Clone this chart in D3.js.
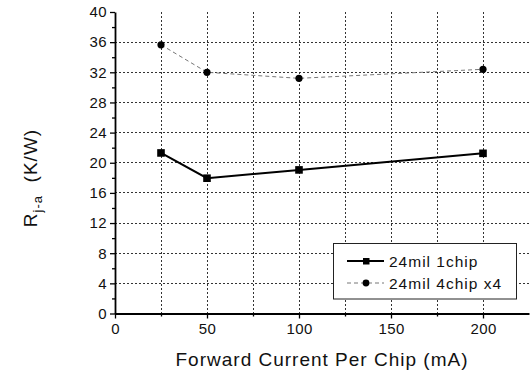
<!DOCTYPE html>
<html>
<head>
<meta charset="utf-8">
<script src="https://cdn.jsdelivr.net/npm/d3@7"></script>
<style>
  body { margin: 0; background: #fff; }
  svg { font-family: "Liberation Sans", Arial, sans-serif; }
</style>
</head>
<body>
<svg id="chart" width="530" height="379"></svg>
<script>
const current = [25, 50, 100, 200];
const oneChip = [21.3, 17.95, 19.05, 21.25];
const fourChip = [35.65, 32.0, 31.2, 32.4];
const seriesNames = ["24mil 1chip", "24mil 4chip x4"];
const xTicks = [0, 50, 100, 150, 200];
const yTicks = [0, 4, 8, 12, 16, 20, 24, 28, 32, 36, 40];

const svg = d3.select("#chart");
const margin = { top: 12, right: 0, bottom: 66, left: 115 };
const W = 530, H = 379;

const x = d3.scaleLinear().domain([0, 225]).range([margin.left, W - margin.right - 1]);
const y = d3.scaleLinear().domain([0, 40]).range([313.5, margin.top]);

// grid
const grid = svg.append("g").attr("stroke", "#333").attr("stroke-width", 1)
  .attr("stroke-dasharray", "2,2").attr("shape-rendering", "crispEdges");
grid.selectAll("line.v").data(d3.range(25, 225, 25)).join("line")
  .attr("x1", d => x(d)).attr("x2", d => x(d))
  .attr("y1", y(40)).attr("y2", y(0));
grid.selectAll("line.h").data(yTicks.filter(d => d > 0 && d < 40)).join("line")
  .attr("class", "h")
  .attr("x1", x(0)).attr("x2", x(225))
  .attr("y1", d => y(d)).attr("y2", d => y(d));

// axes
const xAxis = svg.append("g").attr("transform", `translate(0,${y(0)})`)
  .call(d3.axisBottom(x).tickValues(xTicks).tickSize(5).tickPadding(5).tickSizeOuter(0));
const xMinor = svg.append("g").attr("transform", `translate(0,${y(0)})`)
  .call(d3.axisBottom(x).tickValues([25, 75, 125, 175]).tickSize(3).tickFormat("").tickSizeOuter(0));
xMinor.select(".domain").remove();

const yAxis = svg.append("g").attr("transform", `translate(${x(0)},0)`)
  .call(d3.axisLeft(y).tickValues(yTicks).tickSize(5).tickPadding(3).tickSizeOuter(0));
const yMinor = svg.append("g").attr("transform", `translate(${x(0)},0)`)
  .call(d3.axisLeft(y).tickValues(d3.range(2, 40, 4)).tickSize(3).tickFormat("").tickSizeOuter(0));
yMinor.select(".domain").remove();

[xAxis, yAxis, xMinor, yMinor].forEach(g => {
  g.selectAll("line").attr("stroke", "#000").attr("stroke-width", 1.3);
  g.selectAll(".domain").attr("stroke", "#000").attr("stroke-width", 1.8);
  g.selectAll("text").attr("font-size", 15).attr("fill", "#111")
    .attr("letter-spacing", 0.4)
    .attr("font-family", "'Liberation Sans', Arial, sans-serif");
});

// lines
const line = d3.line().x((d, i) => x(current[i])).y(d => y(d));

svg.append("path").datum(fourChip)
  .attr("fill", "none").attr("stroke", "#777").attr("stroke-width", 1)
  .attr("stroke-dasharray", "4,3").attr("d", line);
svg.append("path").datum(oneChip)
  .attr("fill", "none").attr("stroke", "#000").attr("stroke-width", 2).attr("d", line);

svg.selectAll("circle.pt").data(fourChip).join("circle")
  .attr("class", "pt")
  .attr("cx", (d, i) => x(current[i])).attr("cy", d => y(d)).attr("r", 3.6).attr("fill", "#000");
svg.selectAll("rect.pt").data(oneChip).join("rect")
  .attr("class", "pt")
  .attr("x", (d, i) => x(current[i]) - 3.8).attr("y", d => y(d) - 3.8)
  .attr("width", 7.6).attr("height", 7.6).attr("fill", "#000");

// legend
const lg = svg.append("g");
lg.append("rect").attr("x", 333.5).attr("y", 243.5).attr("width", 183).attr("height", 55.5)
  .attr("fill", "#fff").attr("stroke", "#222").attr("stroke-width", 1);
lg.append("line").attr("x1", 347).attr("x2", 384).attr("y1", 261).attr("y2", 261)
  .attr("stroke", "#000").attr("stroke-width", 2);
lg.append("rect").attr("x", 363).attr("y", 258).attr("width", 6.5).attr("height", 6.5).attr("fill", "#000");
lg.append("line").attr("x1", 347).attr("x2", 384).attr("y1", 283).attr("y2", 283)
  .attr("stroke", "#777").attr("stroke-width", 1).attr("stroke-dasharray", "4,3");
lg.append("circle").attr("cx", 366).attr("cy", 283).attr("r", 3.4).attr("fill", "#000");
lg.selectAll("text").data(seriesNames).join("text")
  .attr("x", 389).attr("y", (d, i) => 261 + i * 22).attr("dy", "0.36em")
  .attr("font-size", 15.5).attr("letter-spacing", 1).attr("fill", "#111").text(d => d);

// axis titles
svg.append("text").attr("x", 322).attr("y", 366).attr("text-anchor", "middle")
  .attr("font-size", 19).attr("letter-spacing", 1).attr("fill", "#111")
  .text("Forward Current Per Chip (mA)");

const yt = svg.append("text").attr("transform", "translate(37,178) rotate(-90)")
  .attr("text-anchor", "middle").attr("font-size", 19).attr("letter-spacing", 1).attr("fill", "#111");
yt.append("tspan").text("R");
yt.append("tspan").attr("font-size", 13).attr("dy", 5).text("j-a");
yt.append("tspan").attr("dy", -5).text("\u00a0 (K/W)");
</script>
</body>
</html>
